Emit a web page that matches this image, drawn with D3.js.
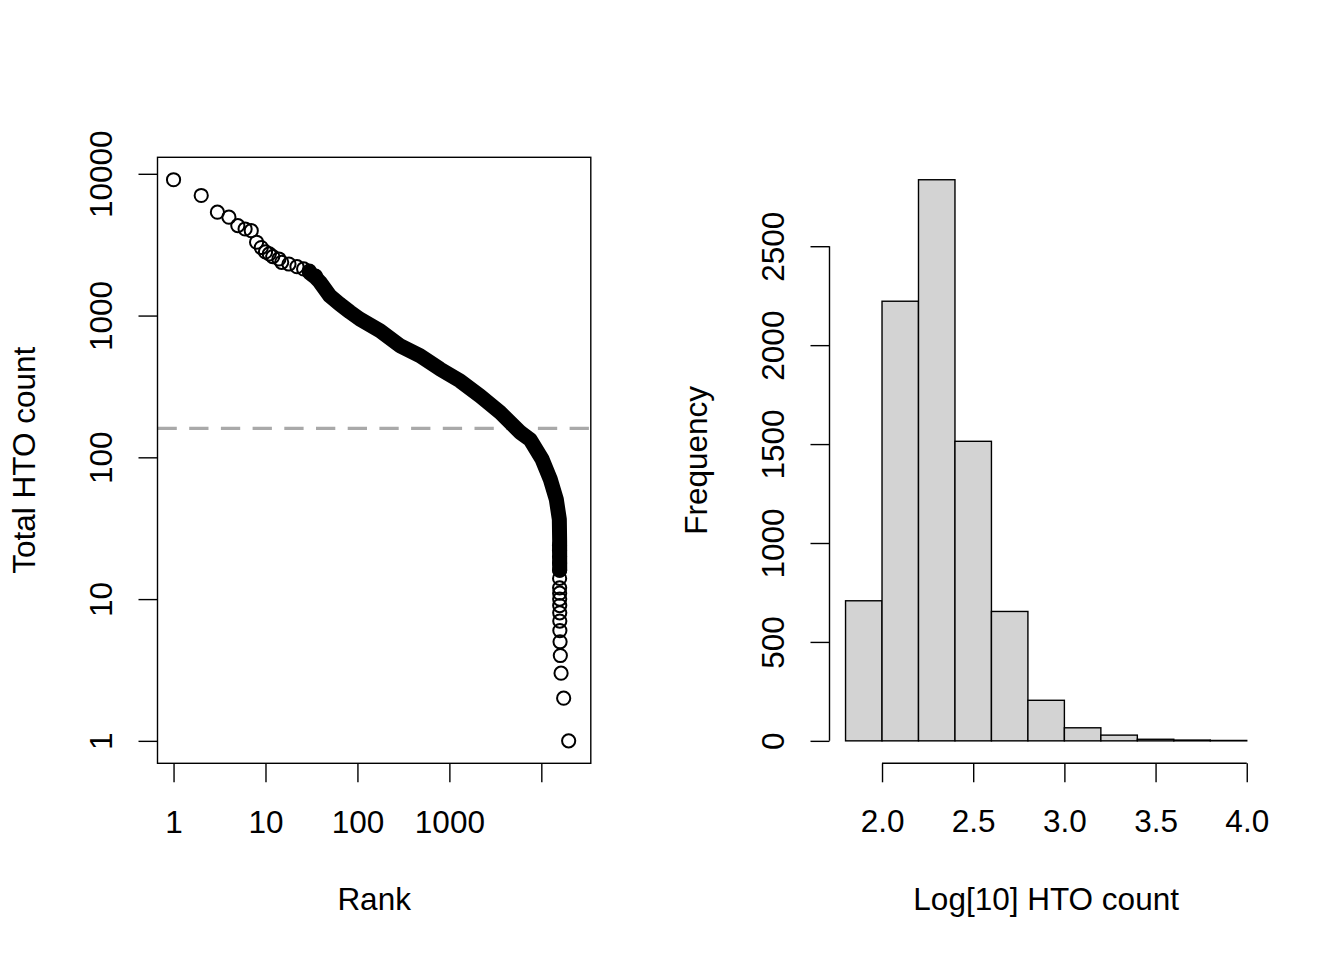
<!DOCTYPE html>
<html>
<head>
<meta charset="utf-8">
<script src="https://cdn.jsdelivr.net/npm/d3@7"></script>
<style>
  body { margin: 0; background: white; }
  svg { display: block; font-family: "Liberation Sans", Arial, sans-serif; }
</style>
</head>
<body>
<div id="chart"></div>
<script>
// knee plot: first ranks are separate circles
const pointRank  = [1, 2, 3, 4, 5, 6, 7, 8, 9, 10, 11, 12, 14, 15, 18, 22, 26, 30, 35];
const pointCount = [9080, 7030, 5360, 4940, 4310, 4080, 3970, 3290, 3020, 2810, 2720, 2605, 2507, 2375, 2310, 2212, 2132, 2060, 1900];

// dense part of the knee plot (circles overlap into a band)
const curveRank  = [30, 35, 39, 50, 64, 83, 106, 176, 291, 480, 793, 1309, 2162, 3573, 5902, 7590, 10180, 12530, 14560, 15700, 15820, 15850];
const curveCount = [2010, 1860, 1725, 1380, 1206, 1060, 945, 781, 612, 520, 419, 346, 271, 207, 150, 133, 97, 70, 50.5, 36.5, 26, 16];

// low-count tail, integer counts
const tailRank  = [15760, 15770, 15780, 15790, 15800, 15810, 15820, 15830, 15840, 15850, 15860, 15880, 15910, 15990, 16100, 16400, 17500, 19830];
const tailCount = [24, 22, 20, 18, 16, 14, 12, 11, 10, 9, 8, 7, 6, 5, 4, 3, 2, 1];

const totalCells = 23100;   // ranks incl. zero-count cells
const threshold = 160;

const rankTicks  = [1, 10, 100, 1000, 10000];
const rankLabels = ["1", "10", "100", "1000", ""];
const countTicks = [1, 10, 100, 1000, 10000];

// histogram of log10 counts
const binStart = [1.8, 2.0, 2.2, 2.4, 2.6, 2.8, 3.0, 3.2, 3.4, 3.6, 3.8];
const binWidth = 0.2;
const binFreq  = [708, 2222, 2836, 1514, 654, 205, 66, 29, 8, 4, 2];
const histXTicks = [2.0, 2.5, 3.0, 3.5, 4.0];
const histYTicks = [0, 500, 1000, 1500, 2000, 2500];

let w = 1344;
let h = 960;
let fontSize = 31.5;
let lw = 1.4;

let svg = d3.select("#chart")
  .append("svg")
    .attr("width", w)
    .attr("height", h)
;

// R style 4% padding
function padLin(lo, hi) { let d = (hi - lo) * 0.04; return [lo - d, hi + d]; }
function padLog(lo, hi) {
  let d = (Math.log10(hi) - Math.log10(lo)) * 0.04;
  return [lo / Math.pow(10, d), hi * Math.pow(10, d)];
}

let plotTop = 157.3, plotBottom = 763.3;
let left1 = 157.5, right1 = 590.8;
let left2 = 829.5, right2 = 1262.8;

//page-1 knee plot
let allCounts = pointCount.concat(curveCount, tailCount);
let x = d3.scaleLog()
    .domain(padLog(1, totalCells))
    .range([left1, right1]);
let y = d3.scaleLog()
    .domain(padLog(d3.min(allCounts), d3.max(allCounts)))
    .range([plotBottom, plotTop]);

let g1 = svg.append("g");

// dashed threshold
g1.append("line")
    .attr("x1", left1).attr("x2", right1)
    .attr("y1", y(threshold)).attr("y2", y(threshold))
    .style("stroke", "#a9a9a9")
    .style("stroke-width", 3.2)
    .style("stroke-dasharray", "19.3,12.4");

// dense band
let line = d3.line()
    .x(function(d, i) { return x(curveRank[i]); })
    .y(function(d, i) { return y(curveCount[i]); });
g1.append("path")
    .attr("d", line(curveRank))
    .style("fill", "none")
    .style("stroke", "black")
    .style("stroke-width", 15)
    .style("stroke-linejoin", "round")
    .style("stroke-linecap", "round");

let pts = pointRank.map(function(r, i) { return {rank: r, count: pointCount[i]}; })
  .concat(tailRank.map(function(r, i) { return {rank: r, count: tailCount[i]}; }));

g1.selectAll("circle.pt").data(pts)
  .enter()
  .append("circle")
    .attr("class", "pt")
    .attr("cx", function(d) { return x(d.rank); })
    .attr("cy", function(d) { return y(d.count); })
    .attr("r", 6.6)
    .style("fill", "none")
    .style("stroke", "black")
    .style("stroke-width", 2);

// box
g1.append("rect")
    .attr("x", left1).attr("y", plotTop)
    .attr("width", right1 - left1).attr("height", plotBottom - plotTop)
    .style("fill", "none")
    .style("stroke", "black")
    .style("stroke-width", lw);

let xAxis1 = g1.append("g")
    .attr("transform", "translate(0," + plotBottom + ")")
    .call(d3.axisBottom(x).tickValues(rankTicks).tickFormat(function(d, i) { return rankLabels[i]; })
      .tickSize(19).tickSizeOuter(0));
xAxis1.select(".domain").remove();
styleAxis(xAxis1);
xAxis1.selectAll(".tick text").attr("y", 70).attr("dy", 0);

let yAxis1 = g1.append("g")
    .attr("transform", "translate(" + left1 + ",0)")
    .call(d3.axisLeft(y).tickValues(countTicks).tickFormat(d3.format("d"))
      .tickSize(19).tickSizeOuter(0));
yAxis1.select(".domain").remove();
styleAxis(yAxis1);
yAxis1.selectAll(".tick text")
    .attr("transform", "rotate(-90)")
    .attr("x", 0).attr("y", -45.3).attr("dy", 0)
    .attr("text-anchor", "middle");

g1.append("text")
    .attr("x", (left1 + right1) / 2).attr("y", 910)
    .attr("text-anchor", "middle")
    .attr("font-size", fontSize)
    .text("Rank");
g1.append("text")
    .attr("transform", "translate(35," + (plotTop + plotBottom) / 2 + ") rotate(-90)")
    .attr("text-anchor", "middle")
    .attr("font-size", fontSize)
    .text("Total HTO count");

//page-2 histogram
let hx = d3.scaleLinear()
    .domain(padLin(binStart[0], binStart[binStart.length - 1] + binWidth))
    .range([left2, right2]);
let hy = d3.scaleLinear()
    .domain(padLin(0, d3.max(binFreq)))
    .range([plotBottom, plotTop]);

let g2 = svg.append("g");

g2.selectAll("rect.bar").data(binFreq)
  .enter()
  .append("rect")
    .attr("class", "bar")
    .attr("x", function(d, i) { return hx(binStart[i]); })
    .attr("y", function(d) { return hy(d); })
    .attr("width", function(d, i) { return hx(binStart[i] + binWidth) - hx(binStart[i]); })
    .attr("height", function(d) { return hy(0) - hy(d); })
    .style("fill", "#d3d3d3")
    .style("stroke", "black")
    .style("stroke-width", lw);

let xAxis2 = g2.append("g")
    .attr("transform", "translate(0," + plotBottom + ")")
    .call(d3.axisBottom(hx).tickValues(histXTicks).tickFormat(d3.format(".1f"))
      .tickSize(19).tickSizeOuter(0));
xAxis2.select(".domain").remove();
styleAxis(xAxis2);
xAxis2.selectAll(".tick text").attr("y", 69).attr("dy", 0);
g2.append("line")
    .attr("x1", hx(histXTicks[0])).attr("x2", hx(histXTicks[histXTicks.length - 1]))
    .attr("y1", plotBottom).attr("y2", plotBottom)
    .style("stroke", "black").style("stroke-width", lw);

let yAxis2 = g2.append("g")
    .attr("transform", "translate(" + left2 + ",0)")
    .call(d3.axisLeft(hy).tickValues(histYTicks).tickFormat(d3.format("d"))
      .tickSize(19).tickSizeOuter(0));
yAxis2.select(".domain").remove();
styleAxis(yAxis2);
yAxis2.selectAll(".tick text")
    .attr("transform", "rotate(-90)")
    .attr("x", 0).attr("y", -45.3).attr("dy", 0)
    .attr("text-anchor", "middle");
g2.append("line")
    .attr("x1", left2).attr("x2", left2)
    .attr("y1", hy(histYTicks[0])).attr("y2", hy(histYTicks[histYTicks.length - 1]))
    .style("stroke", "black").style("stroke-width", lw);

g2.append("text")
    .attr("x", (left2 + right2) / 2).attr("y", 910)
    .attr("text-anchor", "middle")
    .attr("font-size", fontSize)
    .text("Log[10] HTO count");
g2.append("text")
    .attr("transform", "translate(707," + (plotTop + plotBottom) / 2 + ") rotate(-90)")
    .attr("text-anchor", "middle")
    .attr("font-size", fontSize)
    .text("Frequency");

function styleAxis(a) {
  a.attr("font-size", fontSize)
   .attr("font-family", "Liberation Sans, Arial, sans-serif");
  a.selectAll(".tick line").style("stroke", "black").style("stroke-width", lw);
  a.selectAll(".tick text").style("fill", "black");
}
</script>
</body>
</html>
